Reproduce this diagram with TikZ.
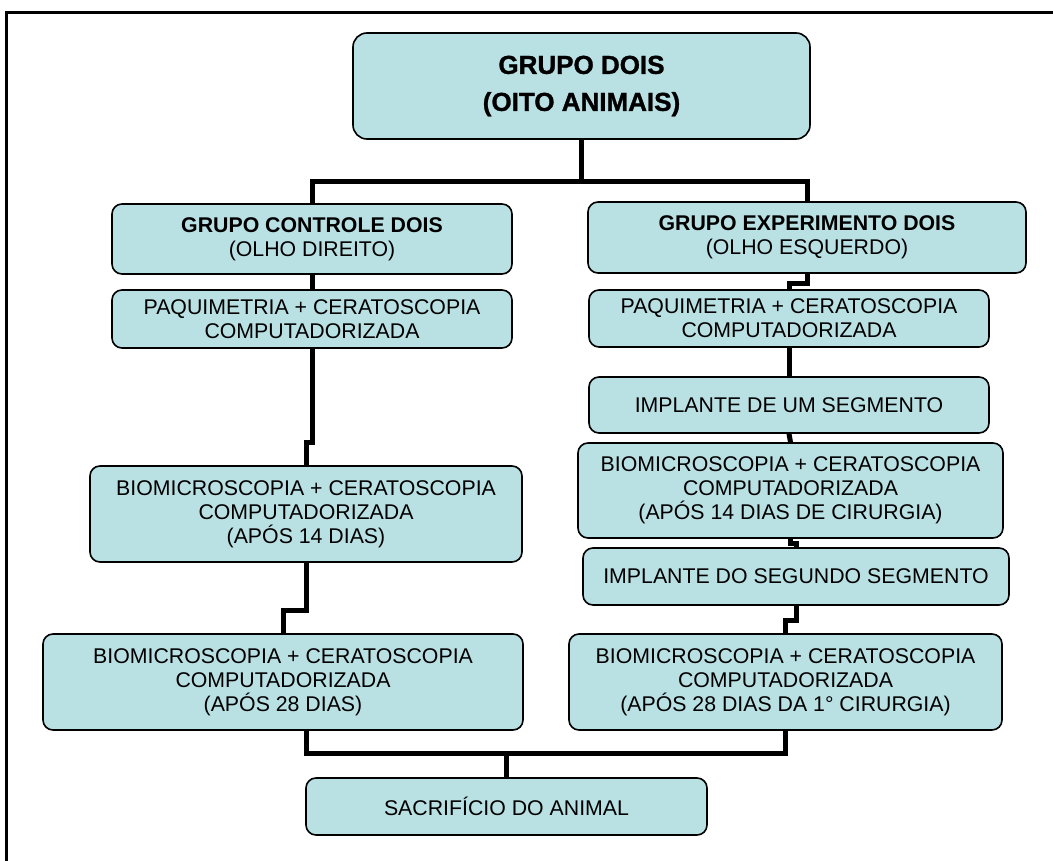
\documentclass[tikz,border=0pt]{standalone}
\usepackage{fontspec}
\setmainfont{Liberation Sans}
\newfontfamily\heavyfont{Liberation Sans Bold}[FakeBold=1.2]
\definecolor{boxfill}{RGB}{185,224,227}

\begin{document}
\begin{tikzpicture}[x=1pt, y=-1pt,
    box/.style={draw=black, line width=1.6pt, fill=boxfill, rounded corners=10pt,
        inner sep=0pt, align=center, font=\fontsize{21.3}{24}\selectfont},
    title/.style={box, rounded corners=14pt, font=\fontsize{26}{37}\heavyfont},
    conn/.style={line width=5pt, black}]
    \useasboundingbox (0,0) rectangle (1053,861);

    %Frame around the chart
    \draw[line width=2.5pt] (1053,12.5) -- (6.5,12.5) -- (6.5,861);

    % The whole group
    \node[title, minimum width=457, minimum height=106] (grupo) at (581.5,86)
        {GRUPO DOIS\\(OITO ANIMAIS)};

    % Left column: control eye
    \node[box, minimum width=400, minimum height=70] (controle) at (312,239)
        {\textbf{GRUPO CONTROLE DOIS}\\(OLHO DIREITO)};
    \node[box, minimum width=400, minimum height=58] (paqC) at (312,319)
        {PAQUIMETRIA + CERATOSCOPIA\\COMPUTADORIZADA};
    \node[box, minimum width=432, minimum height=96] (bioC14) at (306,514)
        {BIOMICROSCOPIA + CERATOSCOPIA\\COMPUTADORIZADA\\(APÓS 14 DIAS)};
    \node[box, minimum width=480, minimum height=96] (bioC28) at (283,682)
        {BIOMICROSCOPIA + CERATOSCOPIA\\COMPUTADORIZADA\\(APÓS 28 DIAS)};

    % Right column: experiment eye
    \node[box, minimum width=438, minimum height=71] (experimento) at (807,237.5)
        {\textbf{GRUPO EXPERIMENTO DOIS}\\(OLHO ESQUERDO)};
    \node[box, minimum width=400, minimum height=57] (paqE) at (789,318.5)
        {PAQUIMETRIA + CERATOSCOPIA\\COMPUTADORIZADA};
    \node[box, minimum width=400, minimum height=56] (implante1) at (789,405)
        {IMPLANTE DE UM SEGMENTO};
    \node[box, minimum width=425, minimum height=95] (bioE14) at (790.5,490.5)
        {BIOMICROSCOPIA + CERATOSCOPIA\\COMPUTADORIZADA\\(APÓS 14 DIAS DE CIRURGIA)};
    \node[box, minimum width=426, minimum height=57] (implante2) at (796,576.5)
        {IMPLANTE DO SEGUNDO SEGMENTO};
    \node[box, minimum width=433, minimum height=96] (bioE28) at (785.5,682)
        {BIOMICROSCOPIA + CERATOSCOPIA\\COMPUTADORIZADA\\(APÓS 28 DIAS DA 1° CIRURGIA)};

    % End of the study
    \node[box, minimum width=401, minimum height=57] (sacrificio) at (506.5,806.5)
        {SACRIFÍCIO DO ANIMAL};

    % Split into the two eyes
    \draw[conn] (grupo.south) -- ++(0,42) coordinate (split);
    \draw[conn] (controle.north) |- (split) -| (experimento.north);

    % Left chain
    \draw[conn] (controle.south) -- (paqC.north);
    \draw[conn] (paqC.south) -- ++(0,94) -| (bioC14.north);
    \draw[conn] (bioC14.south) -- ++(0,48) -| (bioC28.north);

    % Right chain
    \draw[conn] (experimento.south) -- ++(0,10) -| (paqE.north);
    \draw[conn] (paqE.south) -- (implante1.north);
    \draw[conn] (implante1.south) -- (bioE14.north);
    \draw[conn] (bioE14.south) -- ++(0,5) -| (implante2.north);
    \draw[conn] (implante2.south) -- ++(0,15) -| (bioE28.north);

    % Join both columns
    \draw[conn] (bioC14.south |- bioC28.south) -- ++(0,23) coordinate (merge) -| (bioE28.south);
    \draw[conn] (sacrificio.north) -- (sacrificio.north |- merge);
\end{tikzpicture}
\end{document}
